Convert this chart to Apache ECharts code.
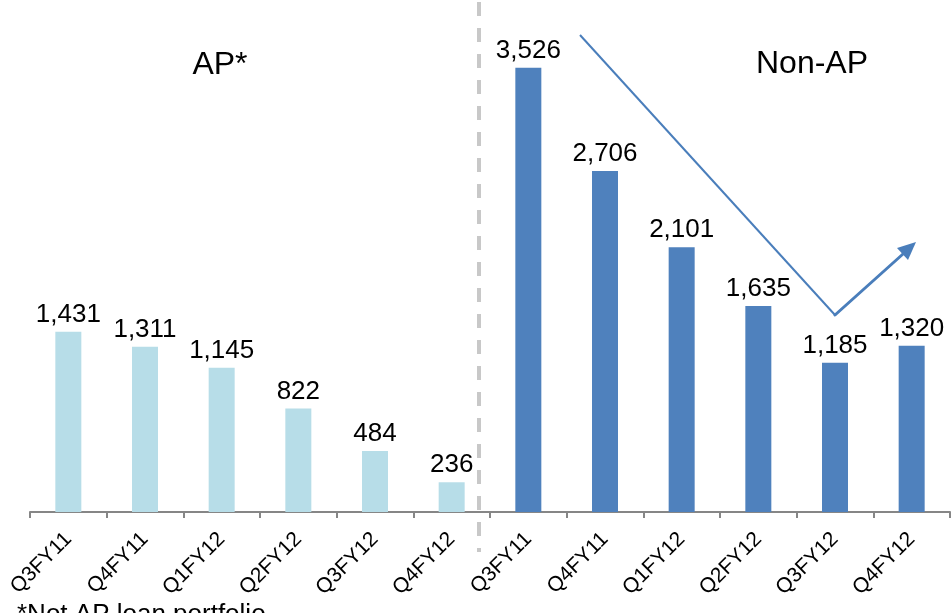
<!DOCTYPE html>
<html>
<head>
<meta charset="utf-8">
<script src="https://cdn.jsdelivr.net/npm/echarts@6/dist/echarts.min.js"></script>
<style>
  html, body { margin: 0; padding: 0; background: #fff; }
  #chart { width: 952px; height: 613px; }
</style>
</head>
<body>
<div id="chart"></div>
<script>
// categories: 6 quarters for AP, then the same 6 for Non-AP
const categories = [
  "Q3FY11", "Q4FY11", "Q1FY12", "Q2FY12", "Q3FY12", "Q4FY12",
  "Q3FY11", "Q4FY11", "Q1FY12", "Q2FY12", "Q3FY12", "Q4FY12"
];
const apValues = [1431, 1311, 1145, 822, 484, 236, "-", "-", "-", "-", "-", "-"];
const nonApValues = ["-", "-", "-", "-", "-", "-", 3526, 2706, 2101, 1635, 1185, 1320];

const chart = echarts.init(document.getElementById("chart"), null, { renderer: "canvas" });
const fontFamily = "Liberation Sans, Arial, sans-serif";

const labelStyle = {
  show: true,
  position: "top",
  distance: 4,
  color: "#000",
  fontSize: 26,
  fontFamily: fontFamily,
  formatter: (p) => p.value.toLocaleString("en-US"),
};

const option = {
  animation: false,
  grid: { left: 30, right: 2, top: 8, bottom: 101 },
  xAxis: {
    type: "category",
    data: categories,
    axisLine: { lineStyle: { color: "#868686", width: 2 } },
    axisTick: { show: true, length: 6, lineStyle: { color: "#868686", width: 2 } },
    axisLabel: {
      rotate: 45,
      margin: 24,
      interval: 0,
      color: "#000",
      fontSize: 21,
      fontFamily: fontFamily,
    },
  },
  yAxis: { type: "value", min: 0, max: 4000, show: false },
  series: [
    {
      name: "AP",
      type: "bar",
      barWidth: 26,
      barGap: "-100%",
      itemStyle: { color: "#b7dde8" },
      label: labelStyle,
      data: apValues,
    },
    {
      name: "Non-AP",
      type: "bar",
      barWidth: 26,
      barGap: "-100%",
      itemStyle: { color: "#4f81bd" },
      label: labelStyle,
      data: nonApValues,
    },
  ],
  graphic: [
    {
      // dashed separator between the two groups
      type: "line",
      shape: { x1: 479, y1: 2, x2: 479, y2: 552 },
      style: { stroke: "#c8c8c8", lineWidth: 4, lineDash: [14, 12] },
      z: 0,
    },
    {
      type: "text",
      x: 220, y: 65,
      style: { text: "AP*", fill: "#000", font: "32px " + fontFamily, align: "center", verticalAlign: "middle" },
    },
    {
      type: "text",
      x: 812, y: 64,
      style: { text: "Non-AP", fill: "#000", font: "32px " + fontFamily, align: "center", verticalAlign: "middle" },
    },
    {
      // trend arrow
      type: "line",
      shape: { x1: 580, y1: 35, x2: 835, y2: 315 },
      style: { stroke: "#4a7ebb", lineWidth: 2 },
    },
    {
      type: "line",
      shape: { x1: 835, y1: 315, x2: 903, y2: 254 },
      style: { stroke: "#4a7ebb", lineWidth: 3, lineCap: "round" },
    },
    {
      type: "polygon",
      shape: { points: [[916, 242], [897, 248], [908, 260]] },
      style: { fill: "#4a7ebb" },
    },
    {
      type: "text",
      x: 17, y: 602,
      style: { text: "*Not AP loan portfolio", fill: "#000", font: "26px " + fontFamily, align: "left", verticalAlign: "top" },
    },
  ],
};

chart.setOption(option);
window.addEventListener("resize", () => chart.resize());
</script>
</body>
</html>
